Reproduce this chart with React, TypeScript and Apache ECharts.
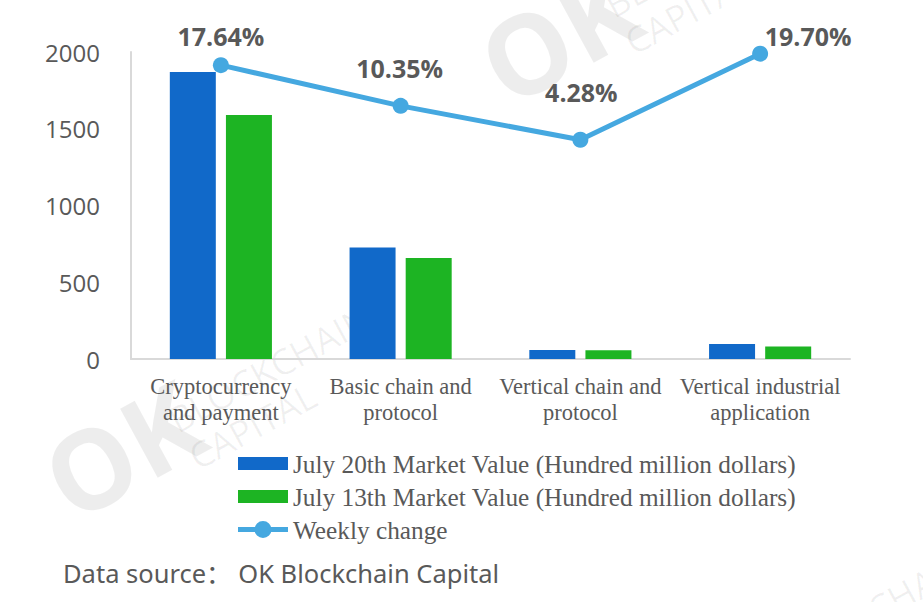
import React, { useEffect, useRef } from "react";
import * as echarts from "echarts";

const categories = [
  "Cryptocurrency\nand payment",
  "Basic chain and\nprotocol",
  "Vertical chain and\nprotocol",
  "Vertical industrial\napplication",
];
const july20 = [1870, 726, 59, 97];
const july13 = [1590, 658, 57, 81];
const weeklyChange = [17.64, 10.35, 4.28, 19.7];
const seriesNames = [
  "July 20th Market Value (Hundred million dollars)",
  "July 13th Market Value (Hundred million dollars)",
  "Weekly change",
];
const labelOffsets = [
  [0, -29],
  [-1, -38],
  [1, -48],
  [48, -18],
];
const sourceText = "Data source： OK Blockchain Capital";

const TEXT = "#595959";
const WM = "rgba(0,0,0,0.07)";
const WM2 = "rgba(0,0,0,0.06)";

const RECT_ICON = "path://M0,0M0,2h50v13h-50zM50,17";
const LINE_ICON =
  "path://M0,0M0,6h50v5h-50zM33.5,8.5A8.5,8.5,0,1,1,16.5,8.5A8.5,8.5,0,1,1,33.5,8.5zM50,17";

function watermark(x: number, y: number) {
  return {
    type: "group",
    x,
    y,
    rotation: 0.5,
    silent: true,
    children: [
      {
        type: "text",
        x: 0,
        y: 0,
        style: {
          text: "OK",
          fill: WM,
          font: "bold 110px 'Open Sans'",
          textVerticalAlign: "bottom",
          textAlign: "left",
        },
      },
      {
        type: "text",
        x: 136,
        y: -36,
        style: {
          text: "BLOCKCHAIN",
          fill: WM2,
          font: "36px 'Open Sans'",
          textVerticalAlign: "bottom",
          textAlign: "left",
        },
      },
      {
        type: "text",
        x: 136,
        y: 6,
        style: {
          text: "CAPITAL",
          fill: WM2,
          font: "36px 'Open Sans'",
          textVerticalAlign: "bottom",
          textAlign: "left",
        },
      },
    ],
  };
}

export default function App() {
  const ref = useRef<HTMLDivElement>(null);
  useEffect(() => {
    if (!ref.current) return;
    const chart = echarts.init(ref.current, undefined, { renderer: "svg" });
    chart.setOption({
      animation: false,
      backgroundColor: "#ffffff",
      grid: { left: 131, right: 73, top: 52, bottom: 243, containLabel: false },
      legend: {
        orient: "vertical",
        left: 238,
        top: 451,
        padding: 0,
        itemWidth: 50,
        itemHeight: 17,
        itemGap: 8,
        textStyle: {
          fontFamily: "'Liberation Serif', 'Times New Roman', serif",
          fontSize: 25.3,
          lineHeight: 25,
          color: TEXT,
        },
        data: [
          { name: seriesNames[0], icon: RECT_ICON },
          { name: seriesNames[1], icon: RECT_ICON },
          { name: seriesNames[2], icon: LINE_ICON },
        ],
      },
      xAxis: {
        type: "category",
        data: categories,
        axisLine: { show: true, lineStyle: { color: "#d9d9d9", width: 2 } },
        axisTick: { show: false },
        axisLabel: {
          fontFamily: "'Liberation Serif', 'Times New Roman', serif",
          fontSize: 22.5,
          lineHeight: 26,
          color: TEXT,
          margin: 14,
          interval: 0,
        },
      },
      yAxis: [
        {
          type: "value",
          min: 0,
          max: 2000,
          interval: 500,
          axisLine: { show: true, lineStyle: { color: "#d9d9d9", width: 2 } },
          axisTick: { show: false },
          splitLine: { show: false },
          axisLabel: {
            fontFamily: "'Open Sans', 'Noto Sans', sans-serif",
            fontSize: 24,
            color: TEXT,
            margin: 31,
            formatter: (v: number) => String(v),
          },
        },
        {
          type: "value",
          min: -35,
          max: 20,
          show: false,
          splitLine: { show: false },
        },
      ],
      series: [
        {
          name: seriesNames[0],
          type: "bar",
          data: july20,
          barWidth: 46,
          barGap: "22%",
          itemStyle: { color: "#1169c9" },
        },
        {
          name: seriesNames[1],
          type: "bar",
          data: july13,
          barWidth: 46,
          barGap: "22%",
          itemStyle: { color: "#1db423" },
        },
        {
          name: seriesNames[2],
          type: "line",
          yAxisIndex: 1,
          data: weeklyChange.map((v, i) => ({
            value: v,
            label: { offset: labelOffsets[i] },
          })),
          symbol: "circle",
          symbolSize: 16,
          lineStyle: { width: 5, color: "#45a8e0" },
          itemStyle: { color: "#45a8e0" },
          z: 5,
          label: {
            show: true,
            position: "inside",
            formatter: (p: any) => p.value.toFixed(2) + "%",
            fontFamily: "'Open Sans', 'Noto Sans', sans-serif",
            fontWeight: "bold",
            fontSize: 25,
            color: TEXT,
          },
        },
      ],
      graphic: [
        watermark(514, 120),
        watermark(78, 535),
        watermark(676, 780),
        {
          type: "text",
          left: 63,
          top: 560,
          style: {
            text: sourceText,
            fill: TEXT,
            font: "25.5px 'Noto Sans', 'Noto Sans CJK SC', sans-serif",
          },
        },
      ],
    });
    return () => chart.dispose();
  }, []);
  return (
    <div
      ref={ref}
      style={{ position: "absolute", left: 0, top: 0, width: 923, height: 602 }}
    />
  );
}
